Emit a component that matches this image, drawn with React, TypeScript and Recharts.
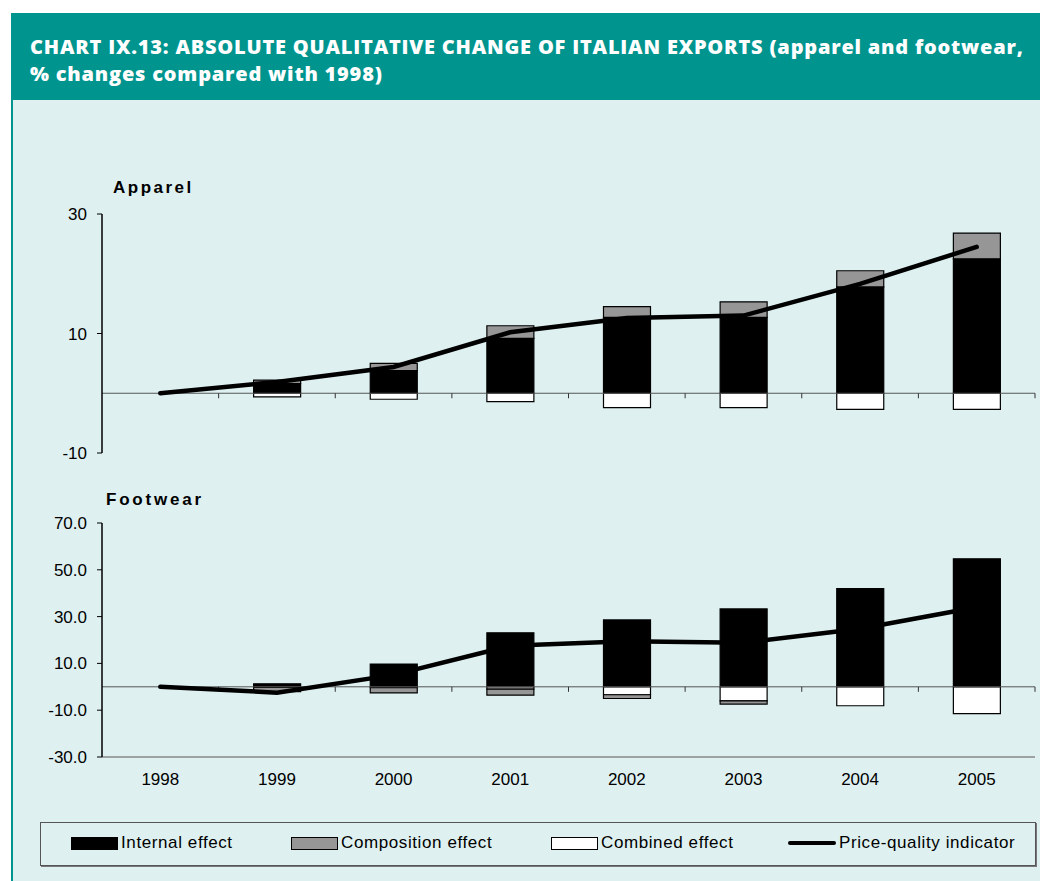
import React from 'react';
import {
  ComposedChart,
  Bar,
  Line,
  XAxis,
  YAxis,
  ReferenceLine,
} from 'recharts';

const years = ['1998', '1999', '2000', '2001', '2002', '2003', '2004', '2005'];

const apparelInternal = [0, 1.6, 3.8, 9.2, 12.7, 12.7, 17.8, 22.5];
const apparelComposition = [0, 0.6, 1.2, 2.1, 1.8, 2.6, 2.7, 4.3];
const apparelCombined = [0, -0.6, -1.0, -1.4, -2.4, -2.4, -2.7, -2.7];
const apparelPriceQuality = [0, 1.9, 4.4, 10.2, 12.6, 13.0, 18.3, 24.5];

const footwearInternal = [0, 1.3, 9.7, 23.1, 28.6, 33.3, 42.0, 54.7];
const footwearComposition = [0, -1.8, -2.2, -2.6, -1.6, -1.4, 0, 0];
const footwearCombined = [0, -0.3, -0.4, -1.0, -3.4, -6.0, -8.1, -11.5];
const footwearPriceQuality = [0, -2.5, 5.1, 17.5, 19.5, 18.8, 24.8, 34.0];

const apparelTicks = [-10, 10, 30];
const footwearTicks = [-30, -10, 10, 30, 50, 70];

const apparelData = years.map((year, i) => ({
  year,
  internal: apparelInternal[i],
  composition: apparelComposition[i],
  combined: apparelCombined[i],
  pq: apparelPriceQuality[i],
}));

const footwearData = years.map((year, i) => ({
  year,
  internal: footwearInternal[i],
  composition: footwearComposition[i],
  combined: footwearCombined[i],
  pq: footwearPriceQuality[i],
}));

const TEAL = '#00948f';
const PANEL = '#def0f0';
const FONT = '"Liberation Sans", Arial, sans-serif';

// zero line plus the small category-boundary ticks hanging from it
const ZeroAxis = (props: any) => {
  const { x1, y1, x2 } = props;
  const step = (x2 - x1) / years.length;
  return (
    <g>
      <line x1={x1} y1={y1} x2={x2} y2={y1} stroke="#555" strokeWidth={1} />
      {years.map((_, i) => (
        <line
          key={i}
          x1={x1 + (i + 1) * step}
          x2={x1 + (i + 1) * step}
          y1={y1}
          y2={y1 + 5}
          stroke="#333"
          strokeWidth={1}
        />
      ))}
    </g>
  );
};

function Panel({
  data,
  ticks,
  domain,
  fmt,
  showYears,
  height,
  margin,
}: any) {
  return (
    <ComposedChart
      width={1040}
      height={height}
      data={data}
      stackOffset="sign"
      margin={margin}
    >
      <XAxis
        dataKey="year"
        height={showYears ? 30 : 0}
        tick={showYears ? { fill: '#000', fontSize: 17, fontFamily: FONT } : false}
        tickLine={false}
        tickSize={0}
        tickMargin={16}
        axisLine={{ stroke: '#888', strokeWidth: 1.5 }}
      />
      <XAxis
        xAxisId="top"
        orientation="top"
        height={0}
        tick={false}
        tickLine={false}
        axisLine={{ stroke: '#888', strokeWidth: 1.5 }}
      />
      <YAxis
        domain={domain}
        ticks={ticks}
        width={102}
        interval={0}
        tickFormatter={fmt}
        tick={{ fill: '#000', fontSize: 17, fontFamily: FONT }}
        tickSize={5}
        tickMargin={10}
        tickLine={{ stroke: '#000' }}
        axisLine={{ stroke: '#000', strokeWidth: 1.5 }}
      />
      <YAxis
        yAxisId="right"
        orientation="right"
        width={0}
        tick={false}
        tickLine={false}
        axisLine={{ stroke: '#888', strokeWidth: 1.5 }}
      />
      <ReferenceLine y={0} shape={ZeroAxis} />
      <Bar
        dataKey="internal"
        stackId="a"
        fill="#000"
        stroke="#000"
        strokeWidth={1.2}
        barSize={47}
        isAnimationActive={false}
      />
      <Bar
        dataKey="combined"
        stackId="a"
        fill="#fff"
        stroke="#000"
        strokeWidth={1.2}
        barSize={47}
        isAnimationActive={false}
      />
      <Bar
        dataKey="composition"
        stackId="a"
        fill="#969696"
        stroke="#000"
        strokeWidth={1.2}
        barSize={47}
        isAnimationActive={false}
      />
      <Line
        dataKey="pq"
        type="linear"
        stroke="#000"
        strokeWidth={4.5}
        strokeLinecap="round"
        dot={false}
        activeDot={false}
        isAnimationActive={false}
      />
    </ComposedChart>
  );
}

const legendItems = [
  { label: 'Internal effect', left: 70, kind: 'box', fill: '#000' },
  { label: 'Composition effect', left: 290, kind: 'box', fill: '#969696' },
  { label: 'Combined effect', left: 550, kind: 'box', fill: '#fff' },
  { label: 'Price-quality indicator', left: 787, kind: 'line', fill: '#000' },
];

const titleStyle: React.CSSProperties = {
  position: 'absolute',
  left: 30,
  height: 27,
  lineHeight: '27px',
  color: '#fff',
  fontFamily: '"Open Sans", sans-serif',
  fontWeight: 800,
  fontSize: 20,
  letterSpacing: 0.8,
  whiteSpace: 'nowrap',
};

export default function App() {
  return (
    <div
      style={{
        position: 'absolute',
        left: 0,
        top: 0,
        width: 1040,
        height: 881,
        background: '#fff',
        overflow: 'hidden',
        fontFamily: FONT,
      }}
    >
      <div
        style={{
          position: 'absolute',
          left: 11,
          top: 13,
          width: 1029,
          height: 868,
          background: PANEL,
          borderLeft: `2px solid ${TEAL}`,
          boxSizing: 'border-box',
        }}
      />
      <div
        style={{
          position: 'absolute',
          left: 11,
          top: 13,
          width: 1029,
          height: 87,
          background: TEAL,
        }}
      />
      <div style={{ ...titleStyle, top: 33 }}>
        CHART IX.13: ABSOLUTE QUALITATIVE CHANGE OF ITALIAN EXPORTS (apparel and footwear,
      </div>
      <div style={{ ...titleStyle, top: 60 }}>% changes compared with 1998)</div>

      <div
        style={{
          position: 'absolute',
          left: 113,
          top: 178,
          fontSize: 17,
          fontWeight: 700,
          letterSpacing: 2.5,
          color: '#000',
        }}
      >
        Apparel
      </div>
      <div style={{ position: 'absolute', left: 0, top: 200 }}>
        <Panel
          data={apparelData}
          ticks={apparelTicks}
          domain={[-10, 30]}
          fmt={(v: number) => String(v)}
          showYears={false}
          height={270}
          margin={{ top: 14, right: 5, bottom: 17, left: 0 }}
        />
      </div>

      <div
        style={{
          position: 'absolute',
          left: 106,
          top: 490,
          fontSize: 17,
          fontWeight: 700,
          letterSpacing: 2.8,
          color: '#000',
        }}
      >
        Footwear
      </div>
      <div style={{ position: 'absolute', left: 0, top: 510 }}>
        <Panel
          data={footwearData}
          ticks={footwearTicks}
          domain={[-30, 70]}
          fmt={(v: number) => v.toFixed(1)}
          showYears={true}
          height={282}
          margin={{ top: 13, right: 5, bottom: 5, left: 0 }}
        />
      </div>

      <div
        style={{
          position: 'absolute',
          left: 40,
          top: 822,
          width: 996,
          height: 44,
          border: '1px solid #555',
          boxShadow: '1px 1px 0 #777',
          boxSizing: 'border-box',
        }}
      >
        {legendItems.map((it) => (
          <div
            key={it.label}
            style={{
              position: 'absolute',
              left: it.left - 40,
              top: 9,
              height: 22,
              display: 'flex',
              alignItems: 'center',
              fontSize: 17,
              letterSpacing: 0.6,
              color: '#000',
            }}
          >
            {it.kind === 'box' ? (
              <div
                style={{
                  width: 45,
                  height: 11,
                  background: it.fill,
                  border: '1px solid #000',
                  marginRight: 3,
                }}
              />
            ) : (
              <div
                style={{
                  width: 48,
                  height: 4,
                  background: '#000',
                  borderRadius: 2,
                  marginRight: 3,
                }}
              />
            )}
            {it.label}
          </div>
        ))}
      </div>
    </div>
  );
}
